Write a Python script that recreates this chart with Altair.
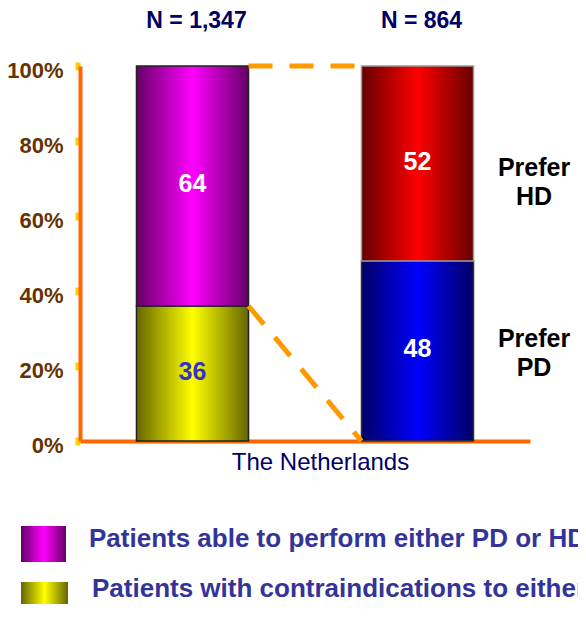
import altair as alt
import pandas as pd

# ---- data ----
groups = ["N = 1,347", "N = 864"]
left_segments = ["contra", "able"]          # bottom to top
left_values = [36, 64]
right_segments = ["PD", "HD"]               # bottom to top
right_values = [48, 52]
side_labels = {"PD": "Prefer PD", "HD": "Prefer HD"}
category_label = "The Netherlands"
legend_labels = [
    "Patients able to perform either PD or HD",
    "Patients with contraindications to either PD or HD",
]
y_ticks = [0, 20, 40, 60, 80, 100]

rows = []
for g, segs, vals in [(groups[0], left_segments, left_values),
                      (groups[1], right_segments, right_values)]:
    base = 0
    for s, v in zip(segs, vals):
        rows.append({"group": g, "seg": s, "y0": base, "y1": base + v,
                     "value": v, "mid": base + v / 2,
                     "side": side_labels.get(s, "")})
        base += v
df = pd.DataFrame(rows)

connectors = pd.DataFrame([
    {"src": groups[0], "dst": groups[1], "ya": 100, "yb": 100},
    {"src": groups[0], "dst": groups[1], "ya": left_values[0], "yb": 0},
])

FONT = "Liberation Sans"


def grad(dark, bright):
    return {"gradient": "linear", "x1": 0, "y1": 0, "x2": 1, "y2": 0,
            "stops": [{"offset": 0, "color": dark},
                      {"offset": 0.5, "color": bright},
                      {"offset": 1, "color": dark}]}


GRADS = {
    "able": grad("#660066", "#FF00FF"),
    "contra": grad("#666600", "#FFFF00"),
    "HD": grad("#660000", "#FF0000"),
    "PD": grad("#000066", "#0000FF"),
}
STROKES = {"able": "#222222", "contra": "#222222", "HD": "#999999", "PD": "#333333"}

X_SCALE = alt.Scale(domain=groups, paddingInner=0.502, paddingOuter=0.251)
Y_SCALE = alt.Scale(domain=[0, 100])
X_AXIS = alt.Axis(labels=False, ticks=False, domainColor="#FF6600", domainWidth=4,
                  title=category_label, titleX=240, titleY=21, titleBaseline="middle",
                  titleAlign="center", titleFont=FONT, titleFontSize=24,
                  titleFontWeight="normal", titleColor="#000066")
Y_AXIS = alt.Axis(values=y_ticks, labelExpr="datum.value + '%'", title=None,
                  grid=False, domainColor="#FF6600", domainWidth=4,
                  tickColor="#FFCC00", tickSize=5, tickWidth=8,
                  labelFont=FONT, labelFontSize=22, labelFontWeight="bold",
                  labelColor="#663300", labelPadding=12, labelOffset=4)


def xenc(field, **kw):
    return alt.X(field, scale=X_SCALE, axis=X_AXIS, **kw)


def yenc(field):
    return alt.Y(field, scale=Y_SCALE, axis=Y_AXIS)


layers = []
for seg in ["contra", "able", "PD", "HD"]:
    layers.append(
        alt.Chart(df).transform_filter(alt.datum.seg == seg).mark_bar(
            fill=GRADS[seg], stroke=STROKES[seg], strokeWidth=1.5
        ).encode(x=xenc("group:N"), y=yenc("y0:Q"), y2="y1:Q")
    )

# dashed connectors
rules = alt.Chart(connectors).mark_rule(
    color="#FF9900", strokeWidth=5, strokeDash=[24, 17]
).encode(
    x=xenc("src:N", bandPosition=1),
    x2=alt.X2("dst:N", bandPosition=0),
    y=yenc("ya:Q"),
    y2="yb:Q",
)

values_text = alt.Chart(df).mark_text(
    font=FONT, fontSize=25, fontWeight="bold", baseline="middle", dy=-2
).encode(
    x=xenc("group:N"),
    y=yenc("mid:Q"),
    text="value:Q",
    color=alt.condition(alt.datum.seg == "contra", alt.value("#3333CC"), alt.value("white")),
)

n_text = alt.Chart(pd.DataFrame({"group": groups})).mark_text(
    font=FONT, fontSize=23, fontWeight="bold", color="#000066", baseline="middle", dx=4
).encode(
    x=xenc("group:N"),
    y=alt.value(-45),
    text="group:N",
)

side_hd = alt.Chart(df).transform_filter(alt.datum.seg == "HD").mark_text(
    font=FONT, fontSize=25, fontWeight="bold", color="black", lineBreak=" ",
    lineHeight=29, align="center", baseline="middle", dy=4
).encode(x=alt.value(454), y=yenc("mid:Q"), text="side:N")

side_pd = alt.Chart(df).transform_filter(alt.datum.seg == "PD").mark_text(
    font=FONT, fontSize=25, fontWeight="bold", color="black", lineBreak=" ",
    lineHeight=29, align="center", baseline="middle", dy=-12
).encode(x=alt.value(454), y=yenc("mid:Q"), text="side:N")

# custom legend
leg_df1 = pd.DataFrame({"label": [legend_labels[0]]})
leg_df2 = pd.DataFrame({"label": [legend_labels[1]]})
leg_sq1 = alt.Chart(leg_df1).mark_rect(fill=GRADS["able"]).encode(
    x=alt.value(-59), x2=alt.value(-14), y=alt.value(460), y2=alt.value(496))
leg_sq2 = alt.Chart(leg_df2).mark_rect(fill=GRADS["contra"]).encode(
    x=alt.value(-59), x2=alt.value(-12), y=alt.value(516), y2=alt.value(551))
leg_t1 = alt.Chart(leg_df1).mark_text(
    font=FONT, fontSize=26, fontWeight="bold", color="#333399", align="left",
    baseline="middle").encode(x=alt.value(9), y=alt.value(473), text="label:N")
leg_t2 = alt.Chart(leg_df2).mark_text(
    font=FONT, fontSize=26, fontWeight="bold", color="#333399", align="left",
    baseline="middle").encode(x=alt.value(12), y=alt.value(523), text="label:N")

chart = alt.layer(
    *layers, rules, values_text, n_text, side_hd, side_pd,
    leg_sq1, leg_sq2, leg_t1, leg_t2
).properties(
    width=450, height=375,
    autosize=alt.AutoSizeParams(type="none"),
    padding={"left": 72, "top": 58, "right": 48, "bottom": 163},
    background="white",
).configure_view(stroke=None)

chart.save("out.html", embed_options={"renderer": "svg", "actions": False})
